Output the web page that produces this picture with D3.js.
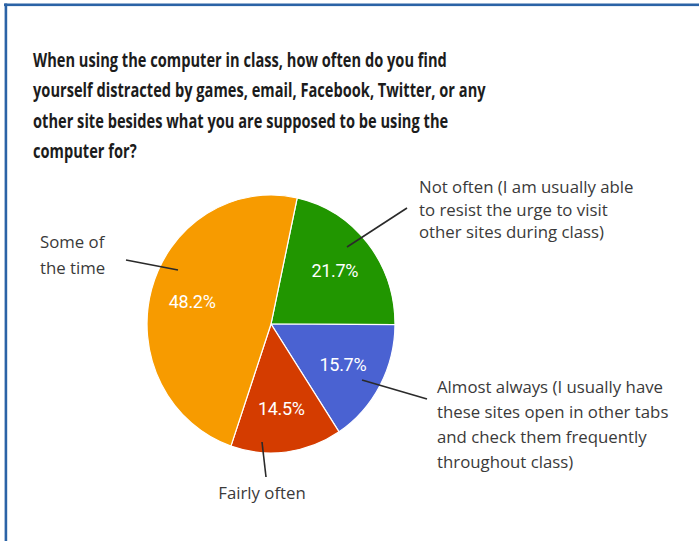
<!DOCTYPE html>
<html>
<head>
<meta charset="utf-8">
<script src="https://cdn.jsdelivr.net/npm/d3@7"></script>
<style>
  html, body { margin: 0; padding: 0; background: #fff; }
  svg { display: block; }
</style>
</head>
<body>
<svg id="chart" width="699" height="541"></svg>
<script>
// ---- data ----
const titleLines = [
  "When using the computer in class, how often do you find",
  "yourself distracted by games, email, Facebook, Twitter, or any",
  "other site besides what you are supposed to be using the",
  "computer for?"
];
const categories = [
  "Not often (I am usually able to resist the urge to visit other sites during class)",
  "Almost always (I usually have these sites open in other tabs and check them frequently throughout class)",
  "Fairly often",
  "Some of the time"
];
const values = [21.7, 15.7, 14.5, 48.2];
const colors = ["#219600", "#4a62d2", "#d43c00", "#f79b00"];
const labelLines = [
  ["Not often (I am usually able", "to resist the urge to visit", "other sites during class)"],
  ["Almost always (I usually have", "these sites open in other tabs", "and check them frequently", "throughout class)"],
  ["Fairly often"],
  ["Some of", "the time"]
];

// ---- layout (annotation placement) ----
const cx = 271, cy = 324, R = 129, xStretch = 0.961;
const startDeg = 12.2;
const labelLayout = [
  { x: 419, y: 193, anchor: "start", lh: 22.5, line: [[407, 208], [347, 247]] },
  { x: 437, y: 393, anchor: "start", lh: 25, line: [[427, 399], [362, 380]] },
  { x: 262, y: 499, anchor: "middle", lh: 25, line: [[266, 477], [262, 442]] },
  { x: 40, y: 248, anchor: "start", lh: 26, line: [[126, 260], [178, 270]] }
];

const svg = d3.select("#chart");

// frame
svg.append("rect").attr("x", 4).attr("y", 3.5).attr("width", 695).attr("height", 2.6).attr("fill", "#2b63a6");
svg.append("rect").attr("x", 4.6).attr("y", 3.5).attr("width", 2.6).attr("height", 537.5).attr("fill", "#2b63a6");

// title
const tg = svg.append("g");
const titleT = tg.selectAll("text").data(titleLines).join("text")
  .attr("x", 0)
  .attr("y", (d, i) => i * 30.5)
  .attr("font-family", "'Open Sans', 'Noto Sans', sans-serif")
  .attr("font-weight", 700)
  .attr("font-size", 19.5)
  .attr("fill", "#1c1c1c")
  .text(d => d);
const w0 = titleT.node().getComputedTextLength();
const sx = 414 / w0;
tg.attr("transform", `translate(33,67) scale(${sx},1)`);

// pie
const pie = d3.pie().sort(null).value(d => d)
  .startAngle(startDeg * Math.PI / 180)
  .endAngle(startDeg * Math.PI / 180 + 2 * Math.PI);
const arcs = pie(values);
const arc = d3.arc().innerRadius(0).outerRadius(R);
const labelArc = d3.arc().innerRadius(R * 0.66).outerRadius(R * 0.66);

const pg = svg.append("g").attr("transform", `translate(${cx},${cy}) scale(${xStretch},1)`);
pg.selectAll("path").data(arcs).join("path")
  .attr("d", arc)
  .attr("fill", (d, i) => colors[i])
  .attr("stroke", "#ffffff")
  .attr("stroke-width", 1.2)
  .attr("vector-effect", "non-scaling-stroke");

// percentage labels
svg.append("g").selectAll("text").data(arcs).join("text")
  .attr("x", d => cx + labelArc.centroid(d)[0] * xStretch)
  .attr("y", d => cy + labelArc.centroid(d)[1])
  .attr("text-anchor", "middle")
  .attr("dominant-baseline", "central")
  .attr("font-family", "Roboto, 'Liberation Sans', Arial, sans-serif")
  .attr("font-size", 18)
  .attr("letter-spacing", -0.3)
  .attr("fill", "#ffffff")
  .text(d => d.data.toFixed(1) + "%");

// leader lines
svg.append("g").selectAll("line").data(labelLayout).join("line")
  .attr("x1", d => d.line[0][0]).attr("y1", d => d.line[0][1])
  .attr("x2", d => d.line[1][0]).attr("y2", d => d.line[1][1])
  .attr("stroke", "#2a2a2a")
  .attr("stroke-width", 1.6);

// category labels
const lg = svg.append("g");
labelLines.forEach((lines, i) => {
  const L = labelLayout[i];
  const t = lg.append("text")
    .attr("text-anchor", L.anchor)
    .attr("font-family", "'Open Sans', 'Noto Sans', sans-serif")
    .attr("font-size", 16.8)
    .attr("fill", "#3a3a3a");
  lines.forEach((ln, j) => {
    t.append("tspan").attr("x", L.x).attr("y", L.y + j * L.lh).text(ln);
  });
});
</script>
</body>
</html>
